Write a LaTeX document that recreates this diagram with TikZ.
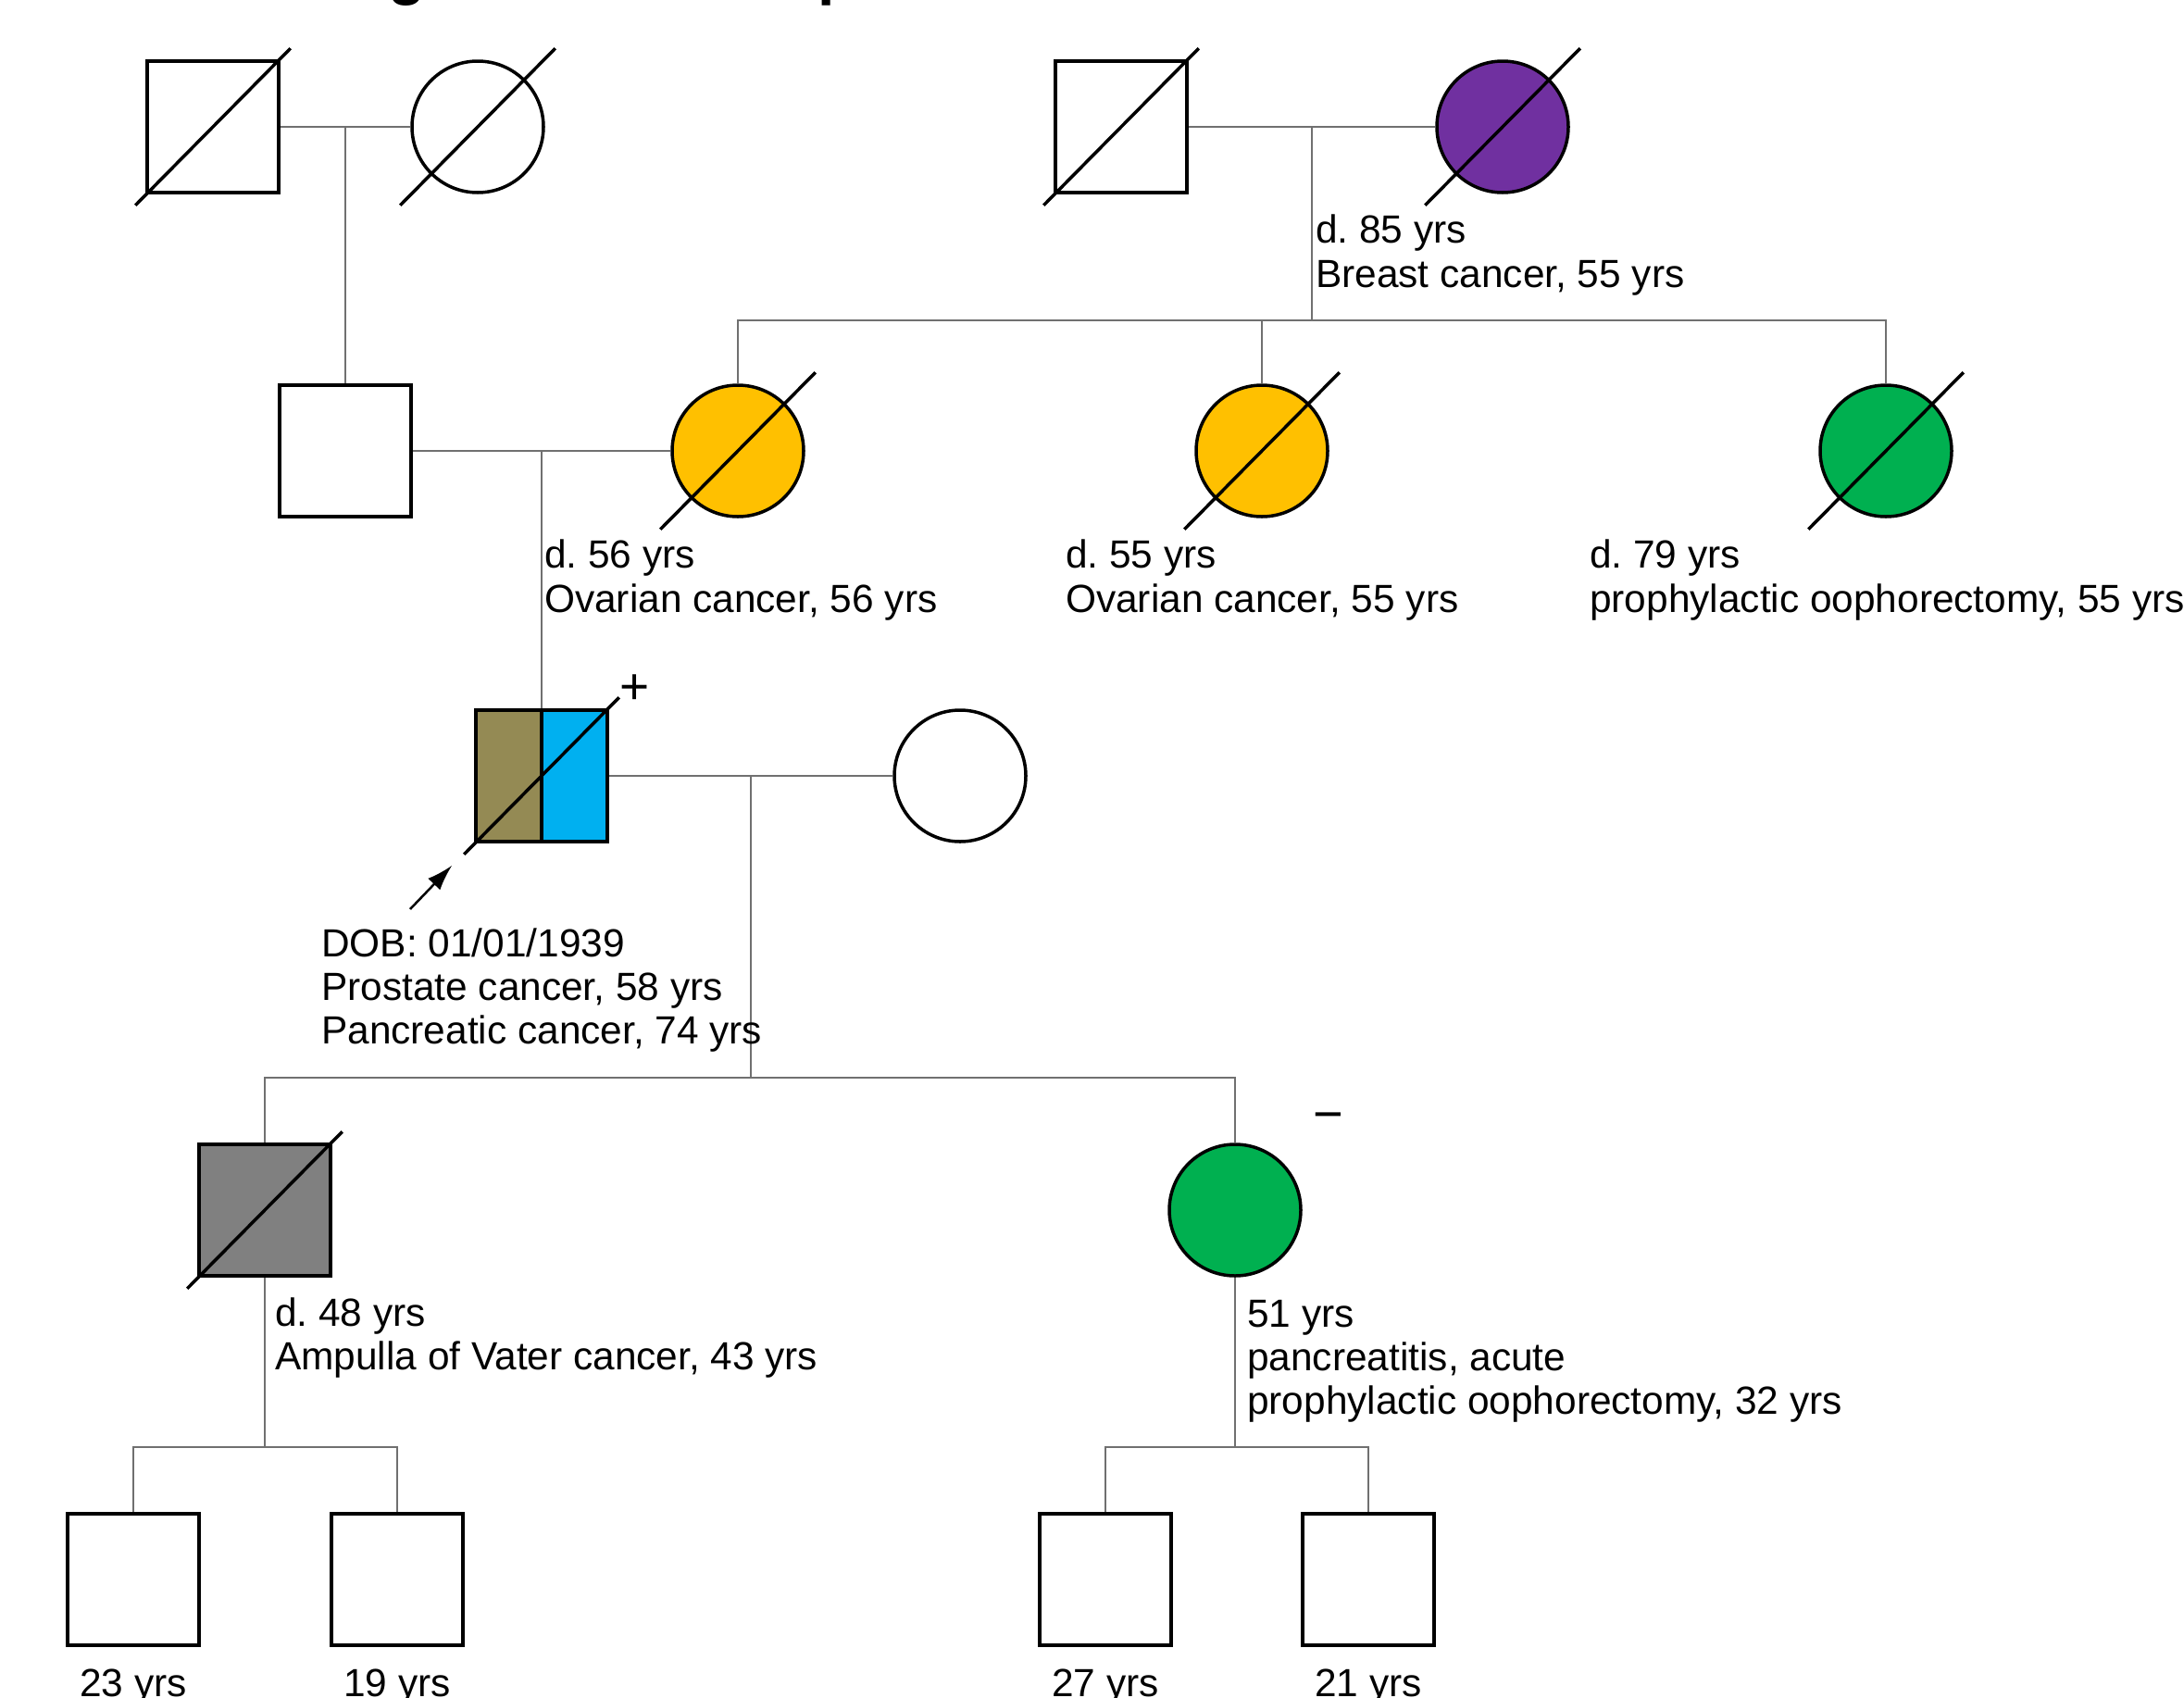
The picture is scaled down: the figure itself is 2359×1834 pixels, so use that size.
\documentclass[tikz,border=0pt]{standalone}
\usepackage{fontspec}
\setmainfont{Liberation Sans}
\usetikzlibrary{calc,arrows.meta}

\definecolor{linkgray}{RGB}{112,112,112}
\definecolor{bcpurple}{RGB}{112,48,160}
\definecolor{ovyellow}{RGB}{255,192,0}
\definecolor{oogreen}{RGB}{0,176,80}
\definecolor{prolive}{RGB}{148,138,84}
\definecolor{pcblue}{RGB}{0,176,240}
\definecolor{avgray}{RGB}{128,128,128}

\tikzset{
  person/.style={draw, line width=3.5pt, inner sep=0pt, minimum size=142pt},
  male/.style={person, rectangle},
  female/.style={person, circle},
  link/.style={draw=linkgray, line width=2.5pt},
  slash/.style={draw=black, line width=3.5pt},
  lbl/.style={anchor=base west, inner sep=0pt, font=\fontsize{42.4}{48}\selectfont},
  agelbl/.style={lbl, anchor=base},
  titlefrag/.style={anchor=base west, inner sep=0pt, font=\bfseries\fontsize{66}{66}\selectfont}
}

% slash through a deceased individual, running past the box corners
\newcommand\deadmark[1]{%
  \draw[slash] ($(#1.west |- #1.south)+(-11,12)$) -- ($(#1.east |- #1.north)+(11,-12)$);}

\frenchspacing

\begin{document}
\begin{tikzpicture}[x=1pt,y=-1pt]
\useasboundingbox (0,0) rectangle (2359,1834);
\clip (0,0) rectangle (2359,1834);

% heading, cut by the top edge
\node[titlefrag] (tg) at (419,-8) {g};
\node[titlefrag] (tp) at (883,-8) {p};

% generation I
\node[male] (gf1) at (230,137) {};
\node[female] (gm1) at (516,137) {};
\node[male] (gf2) at (1211,137) {};
\node[female, fill=bcpurple] (gm2) at (1623,137) {};

% generation II
\node[male] (fa) at (373,487) {};
\node[female, fill=ovyellow] (mo) at (797,487) {};
\node[female, fill=ovyellow] (au1) at (1363,487) {};
\node[female, fill=oogreen] (au2) at (2037,487) {};

% generation III: proband and spouse
\node[male, path picture={
    \fill[prolive] (path picture bounding box.south west) rectangle (path picture bounding box.north);
    \fill[pcblue] (path picture bounding box.south) rectangle (path picture bounding box.north east);
  }] (pro) at (585,838) {};
\draw[line width=3.5pt] (pro.north) -- (pro.south);
\node[male, draw, fill=none] at (pro) {};
\node[female] (sp) at (1037,838) {};

% generation IV
\node[male, fill=avgray] (son) at (286,1307) {};
\node[female, fill=oogreen] (dau) at (1334,1307) {};

% generation V
\node[male] (g1) at (144,1706) {};
\node[male] (g2) at (429,1706) {};
\node[male] (g3) at (1194,1706) {};
\node[male] (g4) at (1478,1706) {};

% mating and descent lines
\draw[link] (gf1) -- (gm1);
\coordinate (u1) at ($(gf1.east)!0.5!(gm1.west)$);
\draw[link] (u1) -- (u1 |- fa.north);

\draw[link] (gf2) -- (gm2);
\coordinate (u2) at ($(gf2.east)!0.5!(gm2.west)$);
\coordinate (sib1) at (1417,346);
\draw[link] (u2) -- (sib1);
\draw[link] (mo.north) -- (mo.north |- sib1) -- (au2.north |- sib1) -- (au2.north);
\draw[link] (au1.north) -- (au1.north |- sib1);

\draw[link] (fa) -- (mo);
\coordinate (u3) at ($(fa.east)!0.5!(mo.west)$);
\draw[link] (u3) -- (u3 |- pro.north);

\draw[link] (pro) -- (sp);
\coordinate (u4) at ($(pro.east)!0.5!(sp.west)$);
\coordinate (sib3) at (811,1164);
\draw[link] (u4) -- (u4 |- sib3);
\draw[link] (son.north) -- (son.north |- sib3) -- (dau.north |- sib3) -- (dau.north);

\coordinate (sib4) at (0,1563);
\draw[link] (son.south) -- (son.south |- sib4);
\draw[link] (g1.north) -- (g1.north |- sib4) -- (g2.north |- sib4) -- (g2.north);
\draw[link] (dau.south) -- (dau.south |- sib4);
\draw[link] (g3.north) -- (g3.north |- sib4) -- (g4.north |- sib4) -- (g4.north);

% deceased marks
\deadmark{gf1}
\deadmark{gm1}
\deadmark{gf2}
\deadmark{gm2}
\deadmark{mo}
\deadmark{au1}
\deadmark{au2}
\deadmark{pro}
\deadmark{son}

% proband arrow and test results
\coordinate (ptail) at (443,982);
\draw[line width=2.5pt, -{Latex[length=28pt,width=18pt]}] (ptail) -- ($(pro.south west)+(-24,24)$);
\node[lbl, anchor=base, font=\fontsize{55}{60}\selectfont] (plus) at (686,760) {+};
\node[lbl, anchor=base, font=\fontsize{56}{60}\selectfont] (minus) at (1435,1222) {−};

% annotations
\node[lbl] (t1a) at (1421,262) {d. 85 yrs};
\node[lbl] (t1b) at (1421,310) {Breast cancer, 55 yrs};

\node[lbl] (t2a) at (588,613) {d. 56 yrs};
\node[lbl] (t2b) at (588,661) {Ovarian cancer, 56 yrs};
\node[lbl] (t3a) at (1151,613) {d. 55 yrs};
\node[lbl] (t3b) at (1151,661) {Ovarian cancer, 55 yrs};
\node[lbl] (t4a) at (1717,613) {d. 79 yrs};
\node[lbl] (t4b) at (1717,661) {prophylactic oophorectomy, 55 yrs};

\node[lbl] (t5a) at (347,1033) {DOB: 01/01/1939};
\node[lbl] (t5b) at (347,1080) {Prostate cancer, 58 yrs};
\node[lbl] (t5c) at (347,1127) {Pancreatic cancer, 74 yrs};

\node[lbl] (t6a) at (297,1432) {d. 48 yrs};
\node[lbl] (t6b) at (297,1479) {Ampulla of Vater cancer, 43 yrs};

\node[lbl] (t7a) at (1347,1433) {51 yrs};
\node[lbl] (t7b) at (1347,1480) {pancreatitis, acute};
\node[lbl] (t7c) at (1347,1527) {prophylactic oophorectomy, 32 yrs};

\node[agelbl] (a1) at (144,1832) {23 yrs};
\node[agelbl] (a2) at (429,1832) {19 yrs};
\node[agelbl] (a3) at (1194,1832) {27 yrs};
\node[agelbl] (a4) at (1478,1832) {21 yrs};
\end{tikzpicture}
\end{document}
